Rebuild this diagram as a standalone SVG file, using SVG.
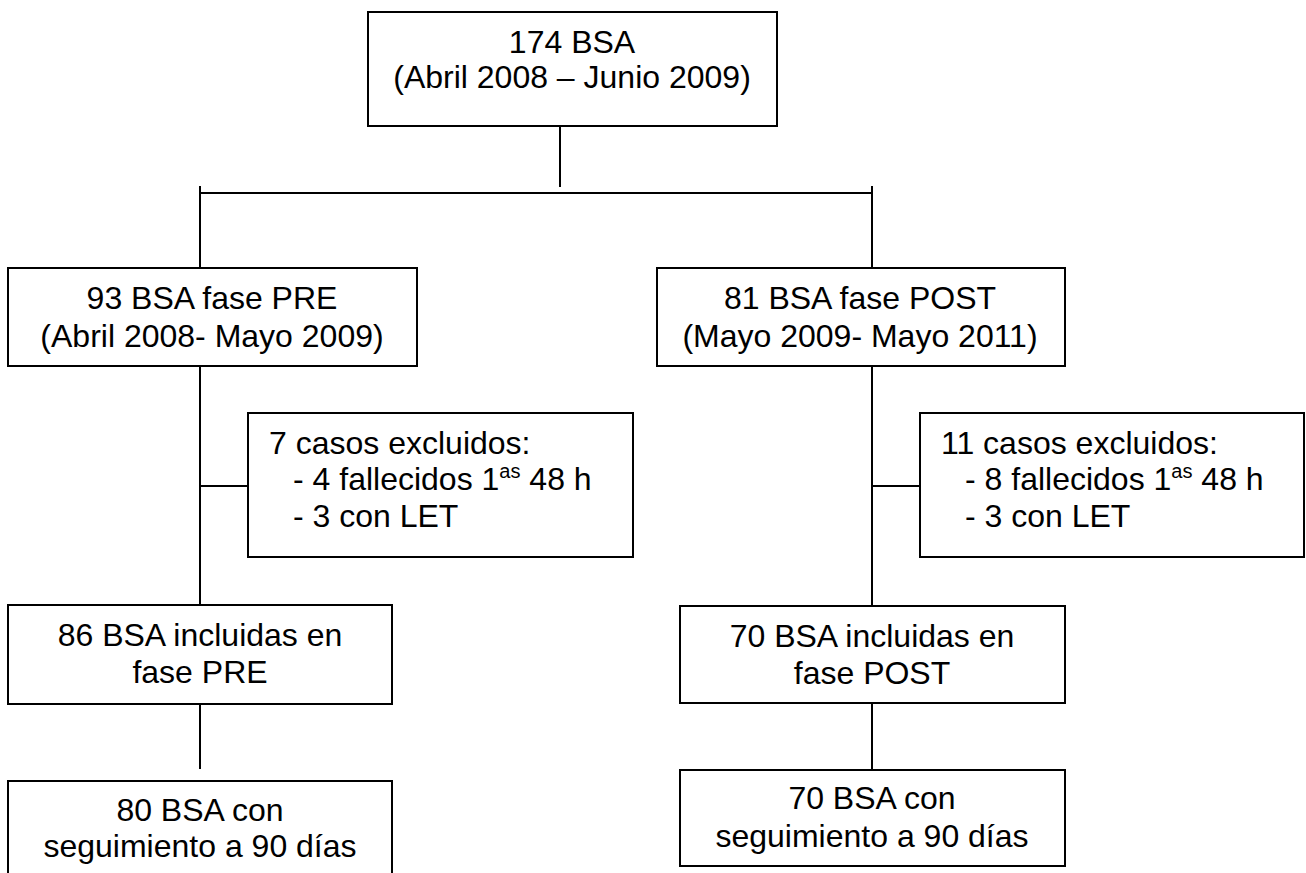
<svg xmlns="http://www.w3.org/2000/svg" width="1306" height="873" viewBox="0 0 1306 873">
<style>
.box{fill:#fff;stroke:#000;stroke-width:2}
.ln{stroke:#000;stroke-width:2;fill:none}
text{font-family:"Liberation Sans",Arial,sans-serif;font-size:32px;fill:#000}
.c{text-anchor:middle}
.sup{font-size:20px}
</style>
<rect width="1306" height="873" fill="#fff"/>
<g id="connectors">
<line class="ln" x1="560" y1="126" x2="560" y2="187"/>
<line class="ln" x1="200" y1="193" x2="872" y2="193"/>
<line class="ln" x1="200" y1="186" x2="200" y2="268"/>
<line class="ln" x1="872" y1="186" x2="872" y2="268"/>
<line class="ln" x1="200" y1="366" x2="200" y2="605"/>
<line class="ln" x1="200" y1="486" x2="248" y2="486"/>
<line class="ln" x1="872" y1="366" x2="872" y2="606"/>
<line class="ln" x1="872" y1="486" x2="920" y2="486"/>
<line class="ln" x1="200" y1="704" x2="200" y2="769"/>
<line class="ln" x1="872" y1="700" x2="872" y2="770"/>
</g>
<g id="n_total">
<rect class="box" x="368" y="12" width="409" height="114"/>
<text class="c" x="572" y="53">174 BSA</text>
<text class="c" x="572" y="88">(Abril 2008 – Junio 2009)</text>
</g>
<g id="n_pre">
<rect class="box" x="8" y="268" width="409" height="98"/>
<text class="c" x="212" y="309">93 BSA fase PRE</text>
<text class="c" x="212" y="347">(Abril 2008- Mayo 2009)</text>
</g>
<g id="n_post">
<rect class="box" x="657" y="268" width="408" height="98"/>
<text class="c" x="860" y="309">81 BSA fase POST</text>
<text class="c" x="860" y="347">(Mayo 2009- Mayo 2011)</text>
</g>
<g id="n_excl_pre">
<rect class="box" x="248" y="413" width="385" height="144"/>
<text x="269" y="454">7 casos excluidos:</text>
<text x="293" y="490">- 4 fallecidos 1<tspan class="sup" dy="-12">as</tspan><tspan dy="12"> 48 h</tspan></text>
<text x="293" y="527">- 3 con LET</text>
</g>
<g id="n_excl_post">
<rect class="box" x="920" y="413" width="384" height="144"/>
<text x="941" y="454">11 casos excluidos:</text>
<text x="965" y="490">- 8 fallecidos 1<tspan class="sup" dy="-12">as</tspan><tspan dy="12"> 48 h</tspan></text>
<text x="965" y="527">- 3 con LET</text>
</g>
<g id="n_incl_pre">
<rect class="box" x="8" y="605" width="384" height="99"/>
<text class="c" x="200" y="646">86 BSA incluidas en</text>
<text class="c" x="200" y="683">fase PRE</text>
</g>
<g id="n_incl_post">
<rect class="box" x="680" y="606" width="385" height="97"/>
<text class="c" x="872" y="647">70 BSA incluidas en</text>
<text class="c" x="872" y="684">fase POST</text>
</g>
<g id="n_seg_pre">
<path class="box" d="M8,880 V781 H392 V880"/>
<text class="c" x="200" y="821">80 BSA con</text>
<text class="c" x="200" y="857">seguimiento a 90 días</text>
</g>
<g id="n_seg_post">
<rect class="box" x="680" y="770" width="385" height="96"/>
<text class="c" x="872" y="809">70 BSA con</text>
<text class="c" x="872" y="847">seguimiento a 90 días</text>
</g>
</svg>
